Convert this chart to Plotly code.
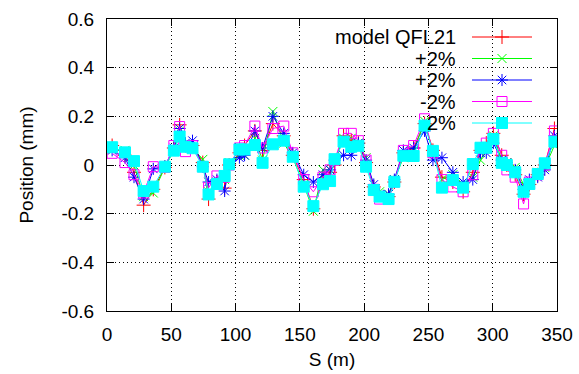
import plotly.graph_objects as go

S = [4, 14, 21, 28.5, 36, 45, 52, 56.5, 61, 66.5, 74.5, 79, 85.5, 91.5, 95, 103, 107, 115, 121, 129,
     137.5, 144.5, 153, 160.5, 168, 173.5, 177, 184, 190, 195.5, 201.5, 207.5, 212, 219, 223.5, 230.5,
     238.5, 247, 253.5, 260.5, 269, 277, 284.5, 290.5, 295, 300.5, 307, 311, 317.5, 324, 328.5, 335, 340.5, 348]

model = [0.08, 0.04, -0.03, -0.165, -0.10, -0.01, 0.07, 0.165, 0.08, 0.08, 0.01, -0.14, -0.07, -0.095, 0.0,
         0.05, 0.08, 0.14, 0.06, 0.17, 0.12, 0.04, -0.06, -0.18, -0.06, -0.03, 0.0, 0.12, 0.10, 0.09, 0.01,
         -0.09, -0.12, -0.13, -0.07, 0.05, 0.07, 0.17, 0.06, -0.05, -0.07, -0.11, -0.03, 0.06, 0.09, 0.13,
         0.04, 0.0, -0.04, -0.12, -0.08, -0.04, 0.0, 0.15]
plus2a = [0.065, 0.06, 0.0, -0.13, -0.115, -0.01, 0.06, 0.14, 0.08, 0.07, 0.023, -0.11, -0.07, -0.06, 0.01,
          0.04, 0.04, 0.11, 0.02, 0.22, 0.09, 0.03, -0.08, -0.19, -0.02, -0.02, 0.02, 0.11, 0.11, 0.09, 0.03,
          -0.10, -0.11, -0.12, -0.06, 0.03, 0.06, 0.18, 0.05, -0.06, -0.04, -0.08, -0.05, 0.02, 0.07, 0.12,
          0.02, 0.01, -0.01, -0.08, -0.07, -0.03, -0.01, 0.08]
plus2b = [0.06, 0.03, -0.05, -0.14, -0.016, -0.005, 0.07, 0.15, 0.09, 0.10, -0.007, -0.07, -0.06, -0.107, 0.0,
          0.03, 0.04, 0.14, 0.07, 0.20, 0.13, 0.05, -0.04, -0.07, -0.04, -0.02, 0.02, 0.04, 0.04, 0.09, 0.02,
          -0.08, -0.12, -0.12, -0.06, 0.06, 0.07, 0.14, 0.02, 0.03, -0.03, -0.07, -0.06, 0.05, 0.05, 0.09,
          0.02, 0.01, -0.02, -0.10, -0.06, -0.05, -0.02, 0.12]
minus2 = [0.048, 0.01, -0.04, -0.115, -0.007, -0.01, 0.08, 0.158, 0.055, 0.08, -0.007, -0.093, -0.045, -0.05, 0.0,
          0.07, 0.08, 0.16, 0.07, 0.15, 0.16, 0.05, -0.06, -0.11, -0.05, -0.02, 0.02, 0.13, 0.13, 0.10, 0.02,
          -0.10, -0.14, -0.14, -0.07, 0.06, 0.08, 0.19, 0.05, -0.06, -0.09, -0.11, -0.04, 0.07, 0.09, 0.13,
          0.04, -0.02, -0.05, -0.16, -0.07, -0.04, 0.0, 0.14]
cyan2 = [0.073, 0.052, 0.016, -0.107, -0.089, -0.007, 0.059, 0.117, 0.075, 0.069, -0.007, -0.121, -0.078, -0.045,
         0.003, 0.064, 0.064, 0.082, 0.009, 0.085, 0.10, 0.034, -0.089, -0.169, -0.079, -0.066, 0.024, 0.096,
         0.075, 0.079, -0.007, -0.103, -0.13, -0.14, -0.069, 0.038, 0.037, 0.162, 0.058, -0.093, -0.062, -0.093,
         0.004, 0.071, 0.071, 0.107, 0.009, 0.0, -0.030, -0.11, -0.078, -0.037, 0.007, 0.096]

names = ["model QFL21", "+2%", "+2%", "-2%", "2%"]
series = [model, plus2a, plus2b, minus2, cyan2]
colors = ["#ff0000", "#00ff00", "#0000ff", "#ff00ff", "#00ffff"]
symbols = ["cross-thin-open", "x-thin-open", "asterisk-open", "square-open", "square"]
sizes = [10, 9, 10, 10, 11]

x_ticks = [0, 50, 100, 150, 200, 250, 300, 350]
y_ticks = [-0.6, -0.4, -0.2, 0, 0.2, 0.4, 0.6]
y_tick_labels = ["-0.6", "-0.4", "-0.2", "0", "0.2", "0.4", "0.6"]

FONT = "Liberation Sans, Arial, sans-serif"

fig = go.Figure()
for name, ys, c, sym, sz in zip(names, series, colors, symbols, sizes):
    fig.add_trace(go.Scatter(
        x=S, y=ys, mode="lines+markers", name=name, showlegend=False,
        line=dict(color=c, width=1),
        marker=dict(symbol=sym, size=sz, color=c, line=dict(color=c, width=1)),
    ))

# custom gnuplot-style key (text on left, sample on right), placed in pixel-like overlay axes
rows_y = [37, 58.5, 80, 101.5, 123]
for name, c, sym, sz, ry in zip(names, colors, symbols, sizes, rows_y):
    fig.add_trace(go.Scatter(
        x=[472, 532], y=[ry, ry], xaxis="x2", yaxis="y2", mode="lines", showlegend=False,
        line=dict(color=c, width=1), hoverinfo="skip"))
    fig.add_trace(go.Scatter(
        x=[502], y=[ry], xaxis="x2", yaxis="y2", mode="markers", showlegend=False,
        marker=dict(symbol=sym, size=sz, color=c, line=dict(color=c, width=1)), hoverinfo="skip"))
    fig.add_annotation(x=458, y=ry, xref="x2", yref="y2", text=name, showarrow=False,
                       xanchor="right", yanchor="middle", font=dict(family=FONT, size=20, color="black"))

axis_common = dict(showline=True, linecolor="black", linewidth=1, mirror="ticks", ticks="inside",
                   ticklen=7, tickcolor="black", showgrid=True, gridcolor="black", griddash="1px,3px",
                   gridwidth=1, zeroline=False, automargin=False,
                   tickfont=dict(family=FONT, size=19, color="black"))

fig.update_layout(
    width=579, height=374, margin=dict(l=107, r=22, t=19, b=63, autoexpand=False),
    paper_bgcolor="white", plot_bgcolor="white",
    xaxis=dict(range=[0, 350], tickvals=x_ticks, ticklabelstandoff=6,
               title=dict(text="S (m)", font=dict(family=FONT, size=19, color="black"), standoff=8),
               **axis_common),
    yaxis=dict(range=[-0.6, 0.6], tickvals=y_ticks, ticktext=y_tick_labels, ticklabelstandoff=8,
               title=dict(text="Position (mm)", font=dict(family=FONT, size=19, color="black"), standoff=22),
               **axis_common),
    xaxis2=dict(range=[107, 557], overlaying="x", visible=False, fixedrange=True),
    yaxis2=dict(range=[311, 19], overlaying="y", visible=False, fixedrange=True),
    showlegend=False,
)

fig.write_html("out.html")
